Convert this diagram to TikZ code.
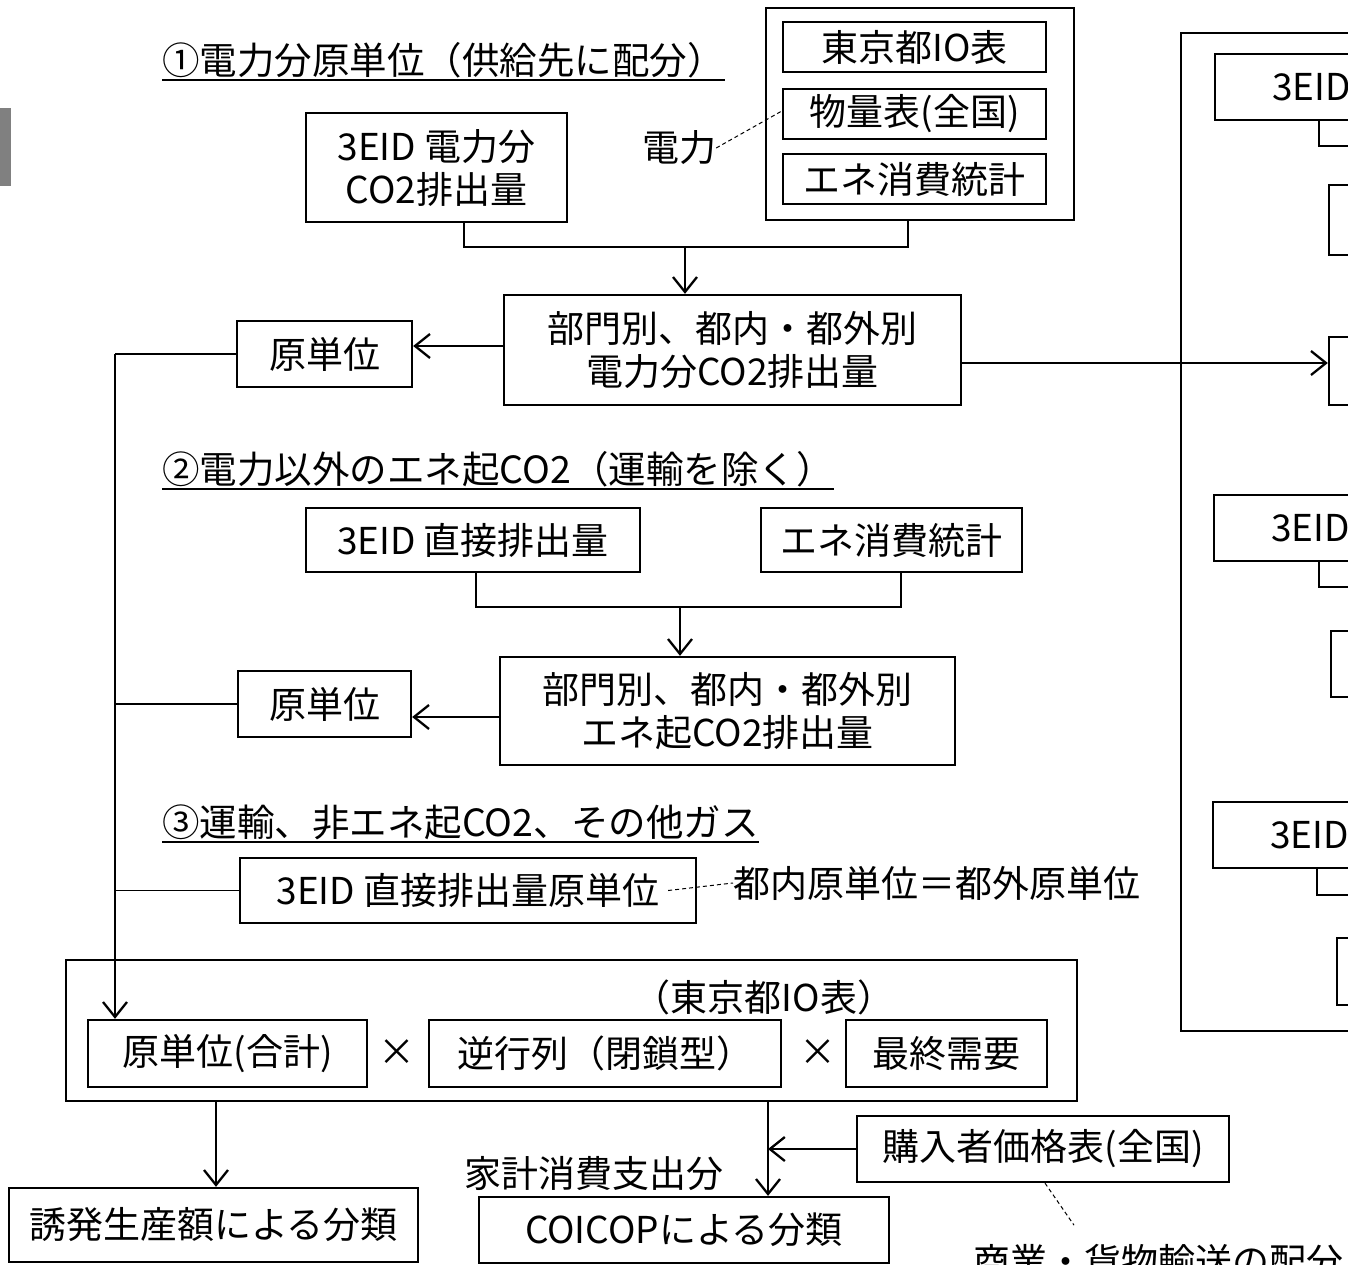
\documentclass[tikz,border=0pt]{standalone}
\usepackage{fontspec}
\setmainfont{Noto Sans CJK JP}
\usetikzlibrary{arrows.meta}
\newcommand\myboxfont{\fontsize{37pt}{43pt}\selectfont}
\newcommand\mytitlefont{\fontsize{37.5pt}{44pt}\selectfont}
\begin{document}
\begin{tikzpicture}[x=1pt,y=-1pt,
  box/.style={draw,line width=2.3pt,inner sep=0pt,align=center,font=\myboxfont},
  plain/.style={inner sep=0pt,font=\myboxfont},
  ttl/.style={inner sep=0pt,font=\mytitlefont,anchor=base west},
  thinln/.style={line width=1.2pt},
  uline/.style={line width=1.6pt},
  arr/.style={line width=2.3pt,-{Straight Barb[length=15pt,width=24pt,line width=2.3pt]}},
  dsh/.style={line width=1pt,dash pattern=on 4pt off 3pt}
]
\useasboundingbox (0,0) rectangle (1348,1265);
\clip (0,0) rectangle (1348,1265);
\fill[white] (0,0) rectangle (1348,1265);
% gray tab
\fill[black!50] (0,108) rectangle (11,186);

% ===== section 1 =====
\node[ttl] (t1) at (162,75) {①電力分原単位（供給先に配分）};
\draw[uline] ([yshift=-5pt]t1.base west) -- ([yshift=-5pt]t1.base east);

\node[box,minimum width=261pt,minimum height=109pt] (e3) at (436.5,167.5) {3EID 電力分\\CO2排出量};
\node[box,minimum width=308pt,minimum height=212pt] (src) at (920,114) {};
\node[box,minimum width=263pt,minimum height=50pt] (tokyo) at (914.5,47) {東京都IO表};
\node[box,minimum width=263pt,minimum height=50pt] (butsu) at (914.5,114) {物量表(全国)};
\node[box,minimum width=263pt,minimum height=50pt] (ene1) at (914.5,179) {エネ消費統計};
\node[plain] (den) at (679,148) {電力};
\draw[dsh] (den.east) -- ([yshift=3pt]butsu.west);

\node[box,minimum width=457pt,minimum height=110pt] (bumon1) at (732.5,350) {部門別、都内・都外別\\電力分CO2排出量};
\coordinate (j1) at (685,247);
\draw[thinln] ([xshift=27.5pt]e3.south) |- (j1) -| ([xshift=-12pt]src.south);
\draw[arr] (j1) -- (j1 |- bumon1.north);

\node[box,minimum width=175pt,minimum height=66pt] (gen1) at (324.5,354) {原単位};
\draw[arr] ([yshift=4pt]bumon1.west) -- ([yshift=4pt]bumon1.west -| gen1.east);

% ===== right panel (cut off) =====
\node[box,minimum width=400pt,minimum height=998pt] (rpanel) at (1381,532) {};
\node[box,minimum width=285pt,minimum height=66pt] (r1) at (1357.5,87) {};
\node[plain,anchor=west] (r1t) at (1272,87) {3EID};
\node[box,minimum width=171pt,minimum height=70pt] (r2) at (1414.5,220) {};
\node[box,minimum width=171pt,minimum height=68pt] (r3) at (1414.5,371) {};
\coordinate (rc1) at (1319,146);
\draw[thinln] ([xshift=-38.5pt]r1.south) -- (rc1) -- (1360,146);
\node[box,minimum width=286pt,minimum height=66pt] (r4) at (1357,528) {};
\node[plain,anchor=west] (r4t) at (1271,528) {3EID};
\coordinate (rc2) at (1319,587);
\draw[thinln] ([xshift=-38pt]r4.south) -- (rc2) -- (1360,587);
\node[box,minimum width=169pt,minimum height=66pt] (r5) at (1415.5,664) {};
\node[box,minimum width=287pt,minimum height=66pt] (r6) at (1356.5,835) {};
\node[plain,anchor=west] (r6t) at (1270,835) {3EID};
\coordinate (rc3) at (1317,895);
\draw[thinln] ([xshift=-39.5pt]r6.south) -- (rc3) -- (1360,895);
\node[box,minimum width=163pt,minimum height=67pt] (r7) at (1418.5,971.5) {};
\draw[arr] ([yshift=-13pt]bumon1.east) -- ([yshift=-13pt]bumon1.east -| r3.west);

% ===== section 2 =====
\node[ttl] (t2) at (162,483) {②電力以外のエネ起CO2（運輸を除く）};
\draw[uline] ([yshift=-6pt]t2.base west) -- ([yshift=-6pt]t2.base east);
\node[box,minimum width=334pt,minimum height=64pt] (d3) at (473,540) {3EID 直接排出量};
\node[box,minimum width=261pt,minimum height=64pt] (ene2) at (891.5,540) {エネ消費統計};
\node[box,minimum width=455pt,minimum height=108pt] (bumon2) at (727.5,711) {部門別、都内・都外別\\エネ起CO2排出量};
\coordinate (j2) at (680,607);
\draw[thinln] ([xshift=3pt]d3.south) |- (j2) -| ([xshift=9.5pt]ene2.south);
\draw[arr] (j2) -- (j2 |- bumon2.north);
\node[box,minimum width=173pt,minimum height=66pt] (gen2) at (324.5,704) {原単位};
\draw[arr] ([yshift=-6pt]bumon2.west) -- ([yshift=-6pt]bumon2.west -| gen2.east);

% ===== section 3 =====
\node[ttl] (t3) at (162,836) {③運輸、非エネ起CO2、その他ガス};
\draw[uline] ([yshift=-6pt]t3.base west) -- ([yshift=-6pt]t3.base east);
\node[box,minimum width=456pt,minimum height=65pt] (d3u) at (468,890.5) {3EID 直接排出量原単位};
\node[plain,anchor=west] (eq) at (733,883) {都内原単位＝都外原単位};
\draw[dsh] ([xshift=-29pt]d3u.east) -- (eq.west);

% ===== collector line =====
\coordinate (vtop) at (115,354);
\draw[thinln] (gen1.west) -- (vtop);
\draw[thinln] (gen2.west) -- (gen2.west -| vtop);
\draw[thinln] (d3u.west) -- (d3u.west -| vtop);

% ===== big box =====
\node[box,minimum width=1011pt,minimum height=141pt] (big) at (571.5,1030.5) {};
\node[plain] (tio) at (764,997) {（東京都IO表）};
\node[box,minimum width=279pt,minimum height=67pt] (gtot) at (227.5,1053.5) {原単位(合計)};
\node[plain] (x1) at (397,1053) {×};
\node[box,minimum width=352pt,minimum height=67pt] (gyaku) at (605,1053.5) {逆行列（閉鎖型）};
\node[plain] (x2) at (818,1053) {×};
\node[box,minimum width=201pt,minimum height=67pt] (saishu) at (946.5,1053.5) {最終需要};
\draw[arr] (vtop) -- (vtop |- gtot.north);

% ===== outputs =====
\node[box,minimum width=409pt,minimum height=74pt] (yuh) at (213.5,1225) {誘発生産額による分類};
\draw[arr] ([xshift=2.5pt]yuh.north |- big.south) -- ([xshift=2.5pt]yuh.north);
\node[box,minimum width=410pt,minimum height=66pt] (coicop) at (684,1230) {COICOPによる分類};
\coordinate (c2) at (768,1101);
\draw[arr] (c2) -- (c2 |- coicop.north);
\node[plain] (kakei) at (594,1173) {家計消費支出分};
\node[box,minimum width=372pt,minimum height=66pt] (kounyu) at (1043,1149) {購入者価格表(全国)};
\draw[arr] (kounyu.west) -- (kounyu.west -| c2);
\node[plain,anchor=base west] (shou) at (973,1275) {商業・貨物輸送の配分};
\draw[dsh] ([xshift=2pt]kounyu.south) -- ++(29,42);
\end{tikzpicture}
\end{document}
